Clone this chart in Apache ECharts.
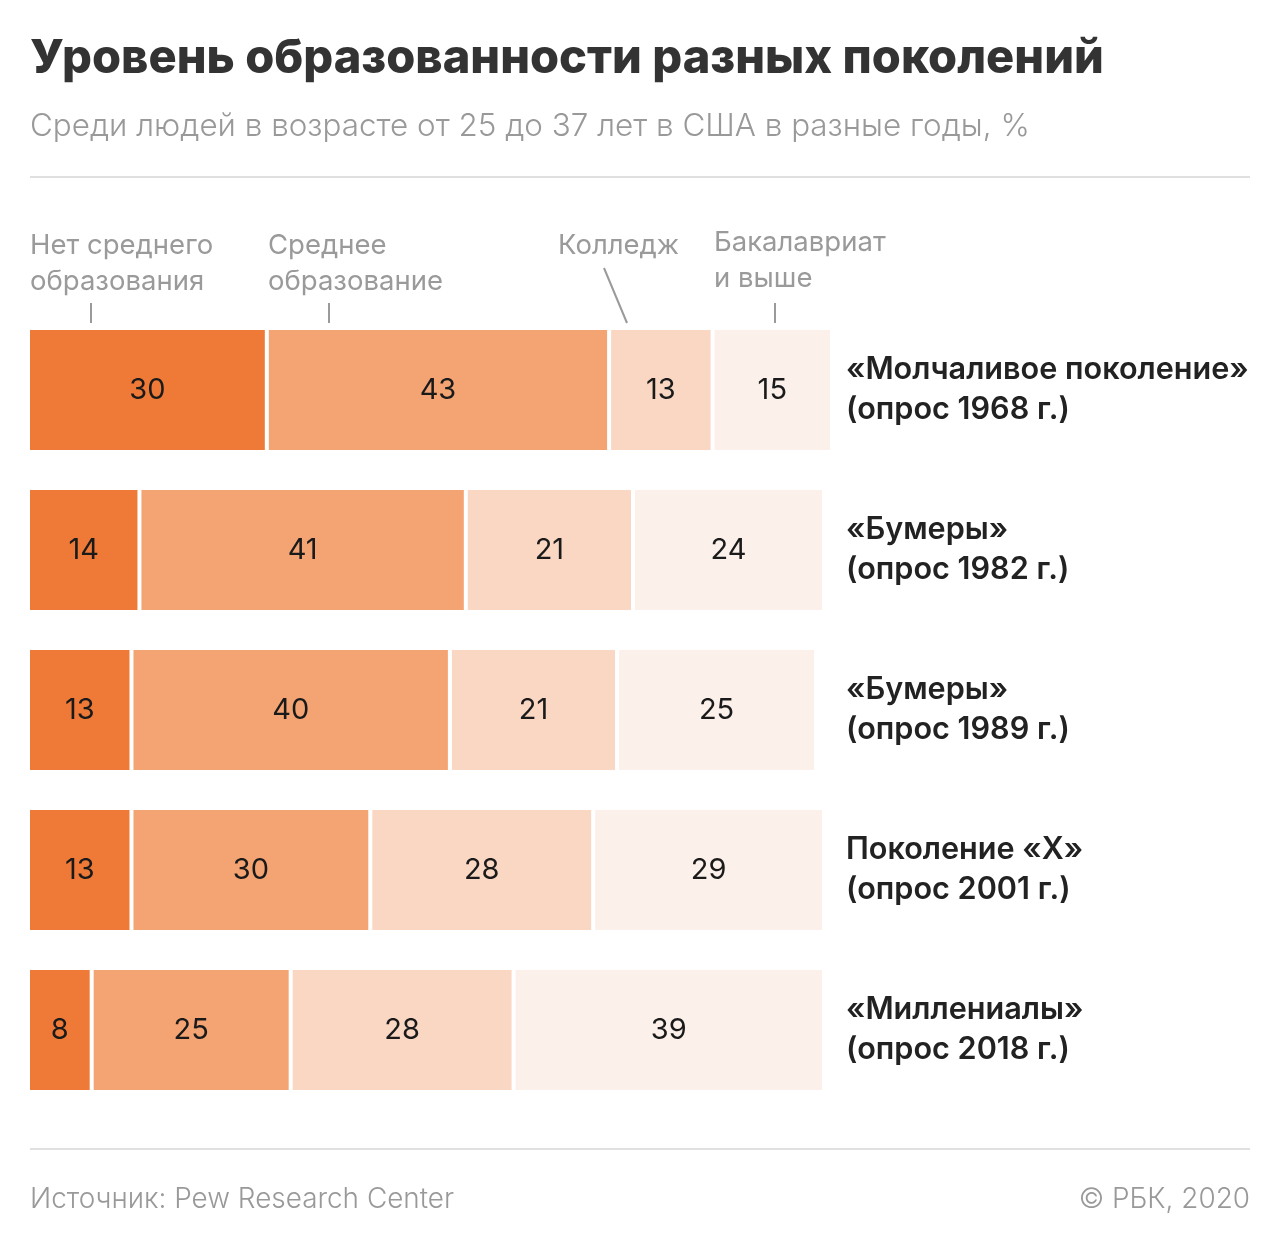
<!DOCTYPE html>
<html><head><meta charset="utf-8">
<script src="https://cdn.jsdelivr.net/npm/echarts@6/dist/echarts.min.js"></script>
<style>html,body{margin:0;padding:0;background:#fff}#c{width:1280px;height:1252px}</style>
</head><body><div id="c"></div>
<script>
const categories = [
  '«Молчаливое поколение»\n(опрос 1968 г.)',
  '«Бумеры»\n(опрос 1982 г.)',
  '«Бумеры»\n(опрос 1989 г.)',
  'Поколение «Х»\n(опрос 2001 г.)',
  '«Миллениалы»\n(опрос 2018 г.)'
];
const seriesNames = ['Нет среднего\nобразования', 'Среднее\nобразование', 'Колледж', 'Бакалавриат\nи выше'];
const noHighSchool = [30, 14, 13, 13, 8];
const highSchool = [43, 41, 40, 30, 25];
const college = [13, 21, 21, 28, 28];
const bachelor = [15, 24, 25, 29, 39];
const colors = ['#EF7A37', '#F4A473', '#F9D7C3', '#FCF0EB'];

const chart = echarts.init(document.getElementById('c'));
const allData = [noHighSchool, highSchool, college, bachelor];
const gray = '#9a9a9a';
const line = (x1,y1,x2,y2)=>({type:'line',shape:{x1,y1,x2,y2},style:{stroke:gray,lineWidth:2}});
const hdr = (x,y,t)=>({type:'text',left:x,top:y,style:{text:t,font:'400 27.5px Inter, "Noto Sans", sans-serif',fill:gray,lineHeight:36}});
chart.setOption({
  animation:false,
  backgroundColor:'#fff',
  grid:{left:28,width:804,top:310,height:800},
  xAxis:{type:'value',min:0,max:101,show:false},
  yAxis:{type:'category',data:categories,inverse:true,position:'right',
    axisLine:{show:false},axisTick:{show:false},
    axisLabel:{margin:14,align:'left',color:'#222',fontSize:30.6,fontWeight:600,fontFamily:'Inter, "Noto Sans", sans-serif',lineHeight:40}},
  series: allData.map((d,i)=>({
    type:'bar',stack:'t',name:seriesNames[i],data:d,barWidth:124,
    itemStyle:{color:colors[i],borderColor:'#fff',borderWidth:2},
    label:{show:true,position:'inside',color:'#1a1a1a',fontSize:29,fontFamily:'Inter, "Noto Sans", sans-serif'}
  })),
  graphic:[
    {type:'text',left:30,top:35,style:{text:'Уровень образованности разных поколений',font:'800 47px Inter, sans-serif',fill:'#333'}},
    {type:'text',left:30,top:111,style:{text:'Среди людей в возрасте от 25 до 37 лет в США в разные годы, %',font:'300 31.4px Inter, sans-serif',fill:'#999'}},
    {type:'rect',shape:{x:30,y:176,width:1220,height:2},style:{fill:'#e0e0e0'}},
    {type:'rect',shape:{x:30,y:1148,width:1220,height:2},style:{fill:'#e0e0e0'}},
    hdr(30,228,seriesNames[0]),
    hdr(268,228,seriesNames[1]),
    hdr(558,228,seriesNames[2]),
    hdr(714,225,seriesNames[3]),
    line(91,303,91,323),
    line(329,303,329,323),
    line(604,268,627,323),
    line(775,303,775,323),
    {type:'text',left:30,top:1186,style:{text:'Источник: Pew Research Center',font:'300 27.9px Inter, sans-serif',fill:'#999'}},
    {type:'text',right:30,top:1186,style:{text:'© РБК, 2020',font:'300 27.9px Inter, sans-serif',fill:'#999',align:'right'}}
  ]
});
</script></body></html>
